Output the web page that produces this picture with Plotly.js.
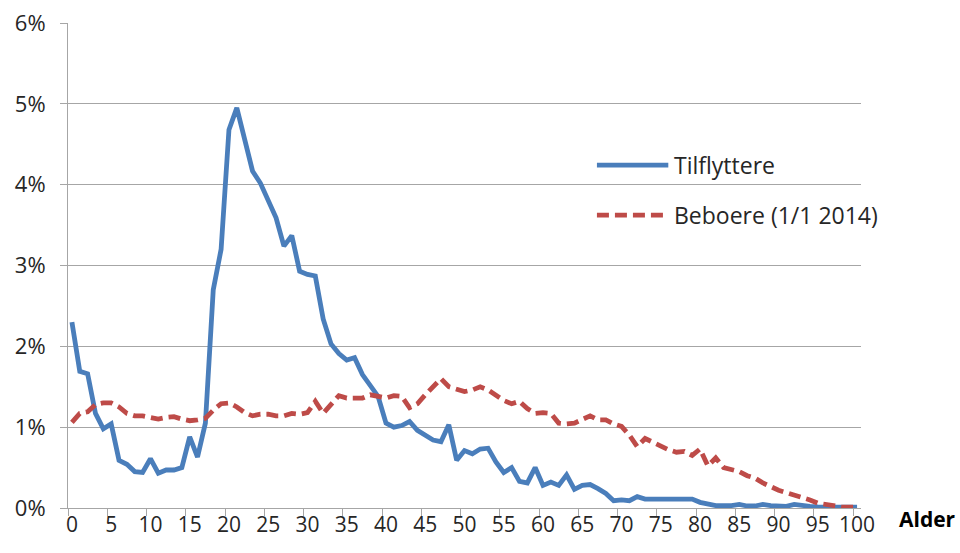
<!DOCTYPE html>
<html>
<head>
<meta charset="utf-8">
<script src="https://cdn.plot.ly/plotly-3.0.1.min.js"></script>
<style>html,body{margin:0;padding:0;background:#fff}#chart{width:960px;height:553px}</style>
</head>
<body>
<div id="chart"></div>
<script>
var ages = [0,1,2,3,4,5,6,7,8,9,10,11,12,13,14,15,16,17,18,19,20,21,22,23,24,25,26,27,28,29,30,31,32,33,34,35,36,37,38,39,40,41,42,43,44,45,46,47,48,49,50,51,52,53,54,55,56,57,58,59,60,61,62,63,64,65,66,67,68,69,70,71,72,73,74,75,76,77,78,79,80,81,82,83,84,85,86,87,88,89,90,91,92,93,94,95,96,97,98,99,100];

var tilflyttere = [2.30,1.69,1.66,1.17,0.98,1.04,0.59,0.54,0.45,0.44,
  0.61,0.43,0.47,0.47,0.50,0.88,0.63,1.05,2.70,3.20,
  4.68,4.95,4.56,4.17,4.02,3.82,3.59,3.24,3.37,2.93,
  2.89,2.87,2.34,2.03,1.91,1.83,1.86,1.65,1.52,1.38,
  1.05,1.00,1.02,1.07,0.96,0.90,0.84,0.82,1.03,0.59,
  0.71,0.67,0.73,0.74,0.57,0.44,0.50,0.33,0.31,0.50,
  0.28,0.32,0.28,0.41,0.23,0.28,0.29,0.24,0.18,0.09,
  0.10,0.09,0.14,0.11,0.11,0.11,0.11,0.10,0.10,0.11,
  0.07,0.045,0.03,0.03,0.03,0.045,0.025,0.025,0.045,0.03,
  0.02,0.02,0.045,0.025,0.02,0.015,0.01,0.01,0.01,0.01,0.01];

var beboere = [1.06,1.17,1.19,1.28,1.30,1.30,1.25,1.17,1.14,1.14,
  1.12,1.10,1.12,1.13,1.10,1.08,1.09,1.11,1.21,1.29,
  1.30,1.25,1.18,1.14,1.16,1.16,1.14,1.14,1.17,1.16,
  1.18,1.32,1.17,1.27,1.39,1.36,1.36,1.36,1.40,1.38,
  1.36,1.39,1.38,1.24,1.29,1.40,1.50,1.60,1.50,1.47,
  1.44,1.46,1.50,1.46,1.40,1.33,1.29,1.32,1.23,1.17,
  1.18,1.17,1.05,1.04,1.05,1.09,1.14,1.09,1.09,1.04,
  1.01,0.90,0.76,0.86,0.81,0.76,0.72,0.69,0.70,0.65,
  0.73,0.52,0.62,0.50,0.47,0.45,0.40,0.37,0.31,0.26,
  0.22,0.19,0.16,0.14,0.10,0.06,0.04,0.025,0.015,0.01,0.01];

var xTickLabels = [0,5,10,15,20,25,30,35,40,45,50,55,60,65,70,75,80,85,90,95,100];
var yTickValues = [0,1,2,3,4,5,6];
var yTickText = ['0%','1%','2%','3%','4%','5%','6%'];
var seriesNames = ['Tilflyttere', 'Beboere (1/1 2014)'];
var xAxisTitle = 'Alder';

var blue = '#4A7EBB';
var red = '#BE4B48';
var gray = '#A6A6A6';
var txt = '#262626';
var font = 'Open Sans, Noto Sans, sans-serif';
var fs = 22;

var boundaries = xTickLabels.map(function(v){ return v - 0.5; });

var traces = [
  {x: ages, y: tilflyttere, type: 'scatter', mode: 'lines', name: seriesNames[0],
   line: {color: blue, width: 4.8}, xaxis: 'x', yaxis: 'y', hoverinfo: 'x+y'},
  {x: ages, y: beboere, type: 'scatter', mode: 'lines', name: seriesNames[1],
   line: {color: red, width: 4.8, dash: '12px,6px'}, xaxis: 'x2', yaxis: 'y', hoverinfo: 'x+y'}
];

// legend placement (paper coords)
var lgX0 = 0.667, lgX1 = 0.757, lgT = 0.762;
var lgY = [0.707, 0.604];

var layout = {
  width: 960, height: 553,
  margin: {l: 68, r: 99, t: 23, b: 45, pad: 0},
  paper_bgcolor: '#fff', plot_bgcolor: '#fff',
  showlegend: false,
  font: {family: font, size: fs, color: txt},
  xaxis: {
    type: 'linear', range: [-0.5, 100.5], fixedrange: true,
    tickmode: 'array', tickvals: xTickLabels, ticktext: xTickLabels.map(String),
    ticks: '', showgrid: false, zeroline: false,
    showline: true, linecolor: gray, linewidth: 1,
    ticklabelstandoff: -2,
    tickfont: {family: font, size: fs - 1, color: txt}
  },
  xaxis2: {
    type: 'linear', range: [-0.5, 100.5], overlaying: 'x', anchor: 'y', side: 'bottom',
    tickmode: 'array', tickvals: boundaries, showticklabels: false,
    ticks: 'outside', ticklen: 7, tickcolor: gray, tickwidth: 1,
    showgrid: false, zeroline: false, showline: false
  },
  yaxis: {
    range: [0, 6], tickmode: 'array', tickvals: yTickValues, ticktext: yTickText,
    ticks: 'outside', ticklen: 7, tickcolor: gray, tickwidth: 1,
    showgrid: true, gridcolor: gray, gridwidth: 1,
    showline: true, linecolor: gray, linewidth: 1, zeroline: false,
    ticklabelstandoff: 10,
    tickfont: {family: font, size: fs, color: txt}
  },
  shapes: [
    {type: 'line', xref: 'paper', yref: 'paper', x0: lgX0, x1: lgX1, y0: lgY[0], y1: lgY[0],
     line: {color: blue, width: 4.8}},
    {type: 'line', xref: 'paper', yref: 'paper', x0: lgX0, x1: lgX1, y0: lgY[1], y1: lgY[1],
     line: {color: red, width: 4.8, dash: '12px,6px'}}
  ],
  annotations: [
    {xref: 'paper', yref: 'paper', x: lgT, y: lgY[0], xanchor: 'left', yanchor: 'middle',
     text: seriesNames[0], showarrow: false, font: {family: font, size: 23, color: txt}},
    {xref: 'paper', yref: 'paper', x: lgT, y: lgY[1], xanchor: 'left', yanchor: 'middle',
     text: seriesNames[1], showarrow: false, font: {family: font, size: 23, color: txt}},
    {xref: 'paper', yref: 'paper', x: 1.084, y: -0.023, xanchor: 'center', yanchor: 'middle',
     text: '<b>' + xAxisTitle + '</b>', showarrow: false, font: {family: font, size: 21, color: '#000'}}
  ]
};

Plotly.newPlot('chart', traces, layout, {staticPlot: true, displayModeBar: false});
</script>
</body>
</html>
